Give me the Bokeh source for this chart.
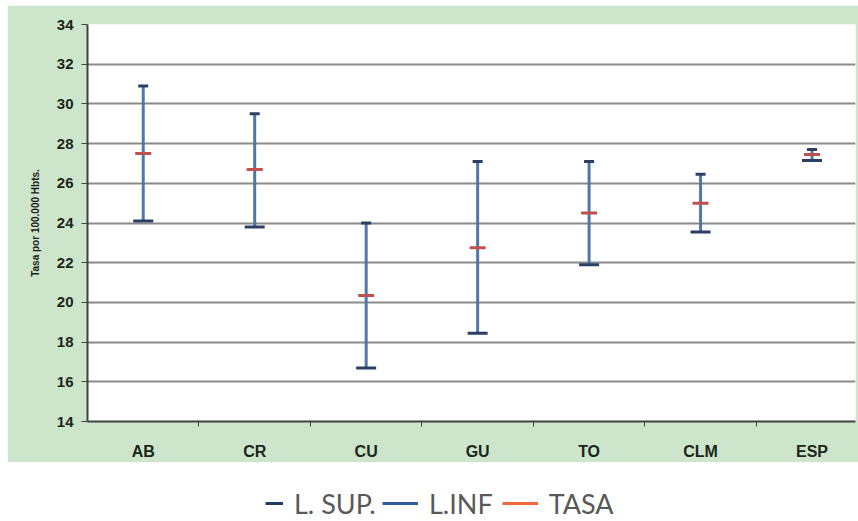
from bokeh.plotting import figure
from bokeh.models import (Range1d, FixedTicker, Legend, LegendItem, ColumnDataSource)
from bokeh.layouts import column
from bokeh.embed import file_html
from bokeh.resources import INLINE

categories = ["AB", "CR", "CU", "GU", "TO", "CLM", "ESP"]
l_sup = [30.9, 29.5, 24.0, 27.1, 27.1, 26.45, 27.7]
l_inf = [24.1, 23.8, 16.7, 18.45, 21.9, 23.55, 27.15]
tasa = [27.5, 26.7, 20.35, 22.75, 24.5, 25.0, 27.45]
y_ticks = [14, 16, 18, 20, 22, 24, 26, 28, 30, 32, 34]

GREEN = "#cde6cb"
xs = [i + 0.5 for i in range(len(categories))]
src = ColumnDataSource(dict(x=xs, sup=l_sup, inf=l_inf, tasa=tasa))

p = figure(width=851, height=457, output_backend="svg", toolbar_location=None,
           x_range=Range1d(0, 6.89), y_range=Range1d(14, 34),
           min_border_left=80, min_border_top=19, min_border_bottom=40, min_border_right=3)
p.margin = (5, 0, 0, 7)
p.border_fill_color = GREEN
p.background_fill_color = "white"
p.outline_line_color = None

# vertical bars
p.segment(x0="x", y0="inf", x1="x", y1="sup", source=src, line_color="#5077a8", line_width=3)
# caps
p.scatter(x="x", y="sup", source=src, marker="dash", size=10, line_color="#2b3f63", line_width=3)
p.scatter(x="x", y="inf", source=src, marker="dash", size=20, line_color="#2b3f63", line_width=3)
p.scatter(x="x", y="tasa", source=src, marker="dash", size=16, line_color="#c0504d", line_width=3)

p.xgrid.visible = False
p.ygrid.ticker = FixedTicker(ticks=y_ticks)
p.ygrid.grid_line_color = "#8a8a8a"
p.ygrid.grid_line_width = 2

p.yaxis.ticker = FixedTicker(ticks=y_ticks)
p.yaxis.axis_label = "Tasa por 100.000 Hbts."
p.yaxis.axis_label_text_font_size = "10px"
p.yaxis.axis_label_text_font_style = "bold"
p.yaxis.axis_label_text_font = "Liberation Sans"
p.yaxis.axis_label_text_color = "#1b1b1b"
p.yaxis.axis_label_standoff = 13

for ax in (p.xaxis[0], p.yaxis[0]):
    ax.axis_line_color = "#404040"
    ax.axis_line_width = 2
    ax.major_label_text_font = "Liberation Sans"
    ax.major_label_text_font_style = "bold"
    ax.major_label_text_color = "#1b261b"
    ax.minor_tick_line_color = None

p.yaxis.major_label_text_font_size = "15px"
p.xaxis.major_label_text_font_size = "16px"
p.yaxis.major_tick_out = 6
p.yaxis.major_tick_in = 0
p.yaxis.major_tick_line_color = "#404040"
p.yaxis.major_label_standoff = 8

p.xaxis.ticker = FixedTicker(ticks=xs, minor_ticks=[1, 2, 3, 4, 5, 6])
p.xaxis.major_label_overrides = {x: c for x, c in zip(xs, categories)}
p.xaxis.major_tick_line_color = None
p.xaxis.minor_tick_line_color = "#404040"
p.xaxis.minor_tick_out = 5
p.xaxis.minor_tick_in = 0
p.xaxis.major_label_standoff = 15

# legend figure
lg = figure(width=858, height=59, output_backend="svg", toolbar_location=None,
            x_range=Range1d(0, 1), y_range=Range1d(0, 1),
            x_axis_location=None, y_axis_location=None, min_border=0)
lg.grid.visible = False
lg.outline_line_color = None
lg.border_fill_color = "white"

r1 = lg.line(x=[-10, -9], y=[-10, -10], line_color="#1f3a64", line_width=3)
r2 = lg.line(x=[-10, -9], y=[-10, -10], line_color="#2e5f9a", line_width=3)
r3 = lg.line(x=[-10, -9], y=[-10, -10], line_color="#f0683c", line_width=3)

def mk(items, loc, gw):
    return Legend(items=items, location=loc, orientation="horizontal",
                  glyph_width=gw, glyph_height=36, label_height=20,
                  label_standoff=11, spacing=9, padding=0, margin=0,
                  border_line_color=None, background_fill_alpha=0,
                  label_text_font="Lato", label_text_font_size="27px",
                  label_text_color="#595959")

leg1 = mk([LegendItem(label="L. SUP.", renderers=[r1])], (185, 0), 18)
leg2 = mk([LegendItem(label="L.INF", renderers=[r2]), LegendItem(label="TASA", renderers=[r3])], (302, 0), 36)
lg.add_layout(leg1, "center")
lg.add_layout(leg2, "center")

layout = column(p, lg, spacing=0)
open("out.html", "w").write(file_html(layout, INLINE))
